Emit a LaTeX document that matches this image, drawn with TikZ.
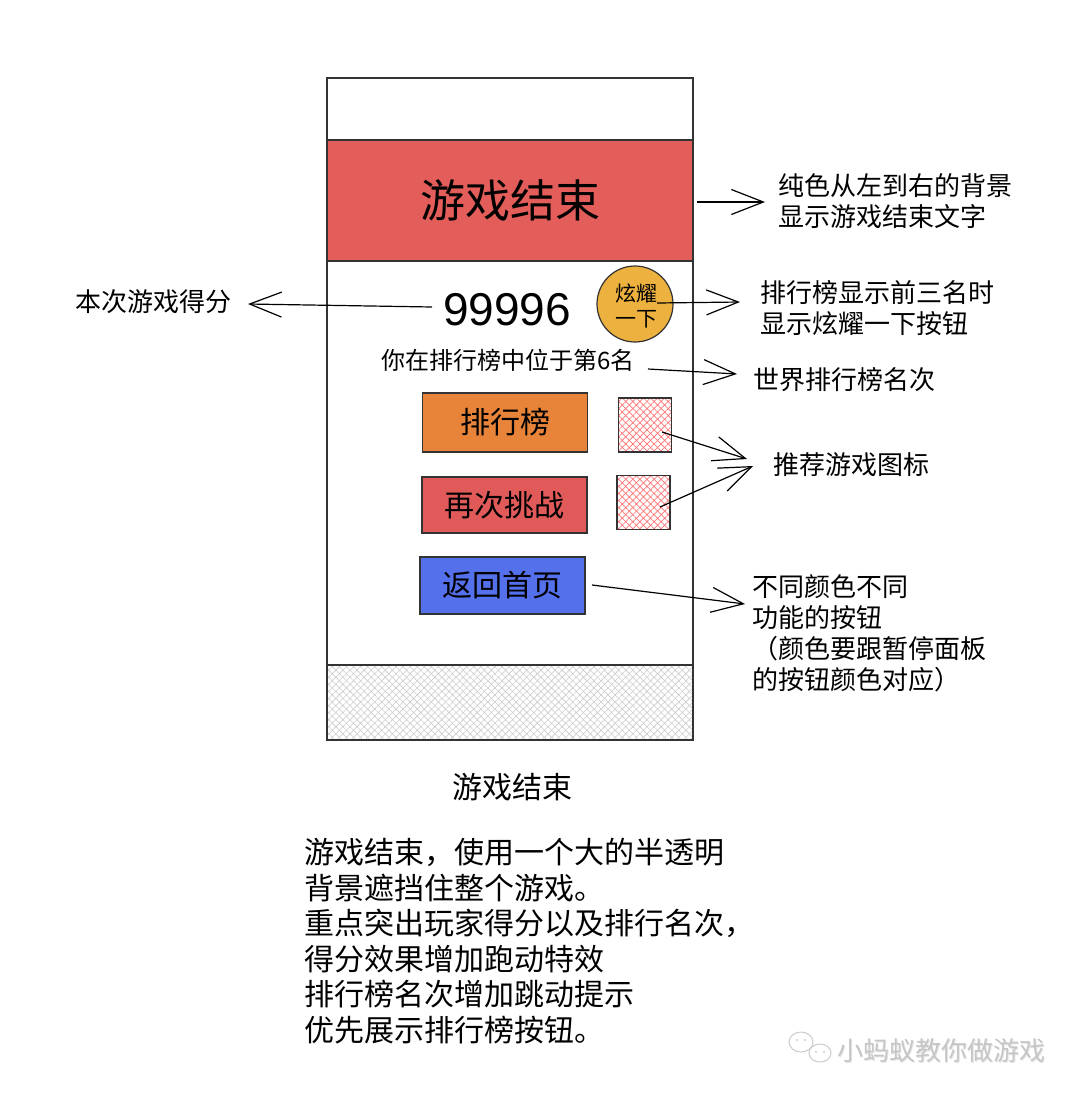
\documentclass[tikz,border=0pt]{standalone}
\usepackage{fontspec}
\setmainfont{Noto Sans CJK SC}
\newfontfamily\numfont{Liberation Sans}
\usetikzlibrary{arrows.meta,patterns.meta}
\definecolor{bandred}{HTML}{E35E5A}
\definecolor{btnorange}{HTML}{E8843A}
\definecolor{btnred}{HTML}{E05A59}
\definecolor{btnblue}{HTML}{5470EB}
\definecolor{gold}{HTML}{EDB13F}
\definecolor{edge}{HTML}{333333}
\tikzset{
  note/.style={inner sep=0pt, anchor=west, align=left, font=\fontsize{26}{30.5}\selectfont},
  btn/.style={draw=edge, line width=1.3pt, minimum width=165pt, inner sep=0pt, font=\fontsize{30}{34}\selectfont},
  callout/.style={draw, line width=1.2pt, -{Straight Barb[length=32pt,width=25pt]}},
  hatchbox/.style={draw=edge, line width=1.3pt, minimum width=53pt, minimum height=54pt, inner sep=0pt},
}
\begin{document}
\begin{tikzpicture}[x=1pt,y=-1pt]
\useasboundingbox (0,0) rectangle (1080,1098);
% phone frame
\node[draw=edge, line width=1.3pt, fill=white, minimum width=366pt, minimum height=662pt, inner sep=0pt] (phone) at (510,409) {};
% header band
\node[draw=edge, line width=1.3pt, fill=bandred, minimum width=366pt, minimum height=121pt, inner sep=0pt, font=\fontsize{45}{50}\selectfont] (band) at (510,200.5) {游戏结束};
% bottom hatched area
\fill[pattern={Lines[angle=45,distance=5pt,line width=0.6pt]}, pattern color=gray!40] (327,665) rectangle (693,740);
\fill[pattern={Lines[angle=-45,distance=5pt,line width=0.6pt]}, pattern color=gray!40] (327,665) rectangle (693,740);
\node[draw=edge, line width=1.3pt, minimum width=366pt, minimum height=75pt, inner sep=0pt] (bottom) at (510,702.5) {};
% score
\node[inner sep=0pt, font=\numfont\fontsize{46}{50}\selectfont] (score) at (507,310) {99996};
% circle
\node[circle, draw=edge, line width=1.2pt, fill=gold, minimum size=76pt, inner sep=0pt, align=center, font=\fontsize{21}{25}\selectfont] (show) at (635,304) {};
\node[inner sep=0pt, align=center, font=\fontsize{21}{25}\selectfont] (showtxt) at (636,305.5) {炫耀\\一下};
% rank
\node[inner sep=0pt, font=\fontsize{24}{28}\selectfont] (rank) at (508,360) {你在排行榜中位于第6名};
% buttons
\node[btn, fill=btnorange, minimum height=59pt] (board) at (505,422.5) {排行榜};
\node[btn, fill=btnred, minimum height=56pt] (retry) at (504.5,505) {再次挑战};
\node[btn, fill=btnblue, minimum height=57pt] (home) at (502.5,585.5) {返回首页};
% recommended game icons
\foreach \n/\cx/\cy in {ga/645/425, gb/643.5/502.5}{
  \fill[pattern={Lines[angle=45,distance=5pt,line width=0.7pt]}, pattern color=red!55] (\cx-26.5,\cy-27) rectangle (\cx+26.5,\cy+27);
  \fill[pattern={Lines[angle=-45,distance=5pt,line width=0.7pt]}, pattern color=red!55] (\cx-26.5,\cy-27) rectangle (\cx+26.5,\cy+27);
  \node[hatchbox] (\n) at (\cx,\cy) {};
}
% notes
\node[note] (n1) at (778,201) {纯色从左到右的背景\\显示游戏结束文字};
\node[note] (n2) at (75,302) {本次游戏得分};
\node[note] (n3) at (760,308) {排行榜显示前三名时\\显示炫耀一下按钮};
\node[note] (n4) at (753,380) {世界排行榜名次};
\node[note] (n5) at (773,465) {推荐游戏图标};
\node[note, font=\fontsize{26}{31}\selectfont] (n6) at (752,633) {不同颜色不同\\功能的按钮\\（颜色要跟暂停面板\\的按钮颜色对应）};
% caption and description
\node[inner sep=0pt, font=\fontsize{30}{34}\selectfont] (cap) at (512,787) {游戏结束};
\node[inner sep=0pt, anchor=west, align=left, font=\fontsize{30}{35.5}\selectfont] (desc) at (304,941) {游戏结束，使用一个大的半透明\\背景遮挡住整个游戏。\\重点突出玩家得分以及排行名次，\\得分效果增加跑动特效\\排行榜名次增加跳动提示\\优先展示排行榜按钮。};
% connector end points
\coordinate (a1s) at (697,202); \coordinate (a1e) at (765,202);
\coordinate (a2s) at (432,307); \coordinate (a2e) at (248,304);
\coordinate (a3s) at (657,303); \coordinate (a3e) at (740,302);
\coordinate (a4s) at (648,369); \coordinate (a4e) at (737,374);
\coordinate (a5s) at (662,432); \coordinate (a5e) at (747,459);
\coordinate (a6s) at (660,507); \coordinate (a6e) at (753,466);
\coordinate (a7s) at (592,585); \coordinate (a7e) at (745,604);
\foreach \i in {1,...,7}{ \draw[callout] (a\i s) -- (a\i e); }
% watermark
\begin{scope}[draw=gray!40, line width=1pt]
  \draw[fill=white] (801,1042) ellipse (12pt and 10pt);
  \draw[fill=white] (820,1053) ellipse (11pt and 9pt);
  \fill[gray!40] (797,1040) circle (1.2pt) (805,1040) circle (1.2pt) (816,1052) circle (1.2pt) (824,1052) circle (1.2pt);
\end{scope}
\node[inner sep=0pt, text=gray!20, font=\fontsize{26}{30}\selectfont] at (942.5,1051.5) {小蚂蚁教你做游戏};
\node[inner sep=0pt, text=gray!45, font=\fontsize{26}{30}\selectfont] (wm) at (941.5,1050.5) {小蚂蚁教你做游戏};
\end{tikzpicture}
\end{document}
